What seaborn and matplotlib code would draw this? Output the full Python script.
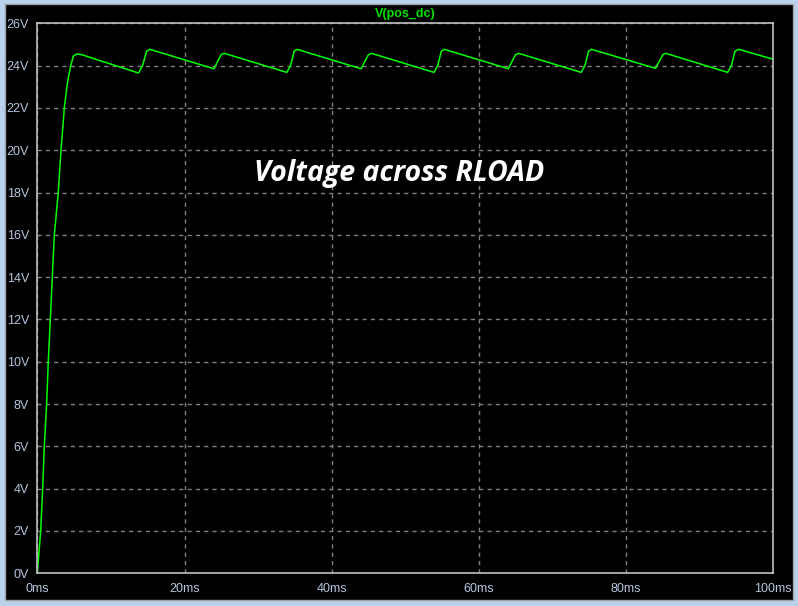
import matplotlib
matplotlib.use("Agg")
import matplotlib.pyplot as plt
import matplotlib.patches as mpatches
import seaborn as sns
import pandas as pd

# ---- data ----
time_ms = [0.0, 0.46, 0.73, 0.95, 1.27, 1.49, 1.77, 2.04, 2.31, 2.85, 3.22, 3.67, 4.1, 4.54, 4.9, 5.35, 6.0,
           13.75, 14.3, 14.85, 15.3,
           24.0, 24.5, 25.0, 25.4,
           33.9, 34.4, 34.9, 35.3,
           44.0, 44.5, 45.0, 45.4,
           53.9, 54.4, 54.9, 55.3,
           64.0, 64.5, 65.0, 65.4,
           73.9, 74.4, 74.9, 75.3,
           84.0, 84.5, 85.0, 85.4,
           93.8, 94.3, 94.8, 95.3,
           100.0]
voltage = [0.0, 2.0, 4.0, 6.0, 8.0, 10.0, 12.0, 14.0, 16.0, 18.0, 20.0, 22.0, 23.2, 24.0, 24.45, 24.55, 24.52,
           23.65, 24.0, 24.68, 24.77,
           23.85, 24.2, 24.52, 24.58,
           23.68, 24.0, 24.68, 24.77,
           23.85, 24.2, 24.52, 24.58,
           23.68, 24.0, 24.68, 24.77,
           23.85, 24.2, 24.52, 24.58,
           23.68, 24.0, 24.68, 24.77,
           23.87, 24.2, 24.52, 24.58,
           23.68, 24.0, 24.68, 24.77,
           24.30]
x_ticks = [0, 20, 40, 60, 80, 100]
x_tick_labels = ["0ms", "20ms", "40ms", "60ms", "80ms", "100ms"]
y_ticks = list(range(0, 27, 2))
y_tick_labels = [f"{v}V" for v in y_ticks]
trace_name = "V(pos_dc)"
annotation = "Voltage across RLOAD"

df = pd.DataFrame({"time": time_ms, "v": voltage})

sns.set_style("dark")
plt.rcParams["font.family"] = ["Liberation Sans", "DejaVu Sans"]

W, H = 798, 606
fig = plt.figure(figsize=(W / 100, H / 100), dpi=100)
fig.patch.set_facecolor("#b9d1ea")
# black plot window
fig.patches.append(mpatches.Rectangle((5 / W, 1 - 600 / H), 788 / W, 596 / H,
                                      transform=fig.transFigure, facecolor="black",
                                      edgecolor="#a0a0a0", linewidth=1, zorder=-5))

left, right = 37.3 / W, 773.3 / W
bottom, top = 1 - 573.3 / H, 1 - 23.3 / H
ax = fig.add_axes([left, bottom, right - left, top - bottom])
ax.set_zorder(2)
ax.set_facecolor("black")

sns.lineplot(data=df, x="time", y="v", ax=ax, color="#00ff00", linewidth=1.1)

ax.set_xlim(0, 100)
ax.set_ylim(0, 26)
ax.set_xticks(x_ticks)
ax.set_xticklabels(x_tick_labels)
ax.set_yticks(y_ticks)
ax.set_yticklabels(y_tick_labels)
ax.set_xlabel("")
ax.set_ylabel("")

lbl_color = "#b4c6dc"
ax.tick_params(axis="both", colors="#c0c0c0", length=5, width=1, direction="out",
               labelcolor=lbl_color, labelsize=9, pad=2)
ax.tick_params(axis="y", pad=1)
for s in ax.spines.values():
    s.set_visible(True)
    s.set_color("#c0c0c0")
    s.set_linewidth(1.2)
ax.grid(True, color="#808080", linestyle=(0, (3, 3)), linewidth=1)

fig.text((405) / W, 1 - 14 / H, trace_name, color="#00e000", fontsize=9, fontweight="bold",
         ha="center", va="center", zorder=3)
ax.text((399 - 37.3) / 736, (573.3 - 173) / 550, annotation, transform=ax.transAxes,
        color="white", fontsize=20.5, fontweight="bold", fontstyle="italic",
        family=["Open Sans", "DejaVu Sans"], ha="center", va="center")

fig.savefig("out.png", dpi=100, facecolor=fig.get_facecolor())
